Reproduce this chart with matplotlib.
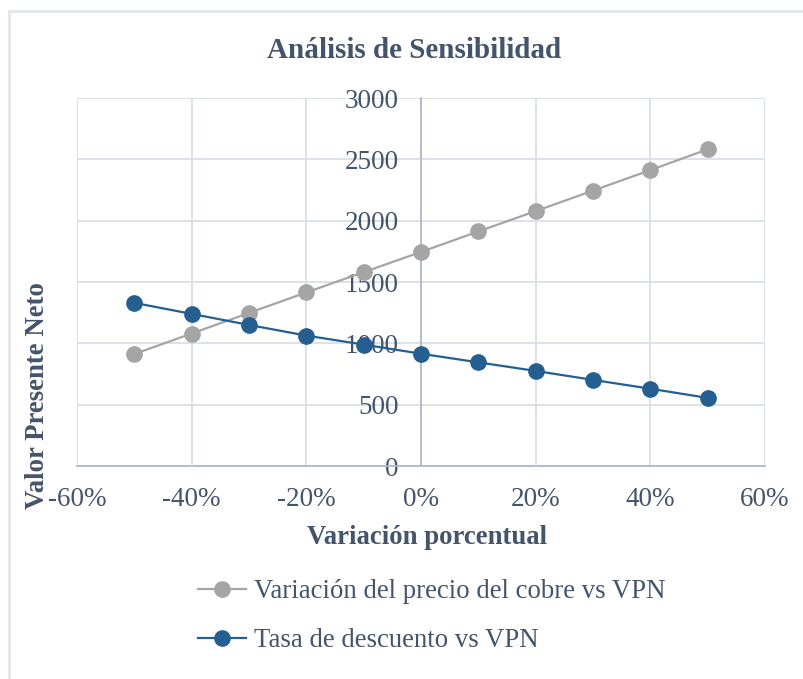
import matplotlib
matplotlib.use("Agg")
import matplotlib.pyplot as plt
from matplotlib.lines import Line2D
from matplotlib.ticker import FuncFormatter

# datos
variacion = [-0.5, -0.4, -0.3, -0.2, -0.1, 0.0, 0.1, 0.2, 0.3, 0.4, 0.5]
vpn_cobre = [913, 1080, 1248, 1415, 1580, 1745, 1912, 2078, 2245, 2412, 2582]
vpn_tasa = [1330, 1240, 1150, 1063, 990, 915, 845, 775, 702, 630, 555]
xticks = [-0.6, -0.4, -0.2, 0.0, 0.2, 0.4, 0.6]
yticks = [0, 500, 1000, 1500, 2000, 2500, 3000]

txt = "#44546A"
gris = "#A5A5A5"
azul = "#255E91"
grid_c = "#D9DEE8"
axis_c = "#ADB9CA"

plt.rcParams['font.family'] = ['Liberation Serif', 'DejaVu Serif']

fig = plt.figure(figsize=(8.04, 6.79), dpi=100)
ax = fig.add_axes([77/804, 1-466/679, (765-77)/804, (466-98)/679])

ax.plot(variacion, vpn_cobre, color=gris, lw=1.6, marker='o', ms=11,
        label="Variación del precio del cobre vs VPN", zorder=3)
ax.plot(variacion, vpn_tasa, color=azul, lw=1.6, marker='o', ms=11,
        label="Tasa de descuento vs VPN", zorder=3)

ax.set_xlim(-0.6, 0.6)
ax.set_ylim(0, 3000)
ax.set_xticks(xticks)
ax.set_yticks(yticks)
ax.xaxis.set_major_formatter(FuncFormatter(lambda v, p: f"{round(v*100):d}%"))

ax.grid(True, color=grid_c, lw=1.3, zorder=0)
ax.set_axisbelow(True)

for s in ['top', 'right']:
    ax.spines[s].set_visible(False)
ax.spines['left'].set_position(('data', 0))
ax.spines['left'].set_color(axis_c)
ax.spines['left'].set_linewidth(1.3)
ax.spines['bottom'].set_color(axis_c)
ax.spines['bottom'].set_linewidth(1.3)

ax.tick_params(axis='both', length=0, labelsize=19.5, colors=txt)
ax.tick_params(axis='x', pad=15)
ax.tick_params(axis='y', pad=16)

fig.text(414/804, 1-51/679, "Análisis de Sensibilidad", ha='center', va='center',
         fontsize=21, fontweight='bold', color=txt)
fig.text(427/804, 1-537/679, "Variación porcentual", ha='center', va='center',
         fontsize=19.3, fontweight='bold', color=txt)
fig.text(38/804, 1-396/679, "Valor Presente Neto", ha='center', va='center',
         rotation=90, fontsize=19.3, fontweight='bold', color=txt)

leg = fig.legend(handles=ax.get_lines(), loc='upper left',
                 bbox_to_anchor=(174/804, 1-555/679), frameon=False,
                 fontsize=19.3, labelcolor=txt, handlelength=1.8,
                 handletextpad=0.3, labelspacing=0.9)

# borde del area del grafico
fig.add_artist(Line2D([9/804, 1], [1-11/679, 1-11/679], color="#E1E5EC", lw=2))
fig.add_artist(Line2D([9/804, 9/804], [0, 1-11/679], color="#E1E5EC", lw=2))

fig.savefig("out.png", dpi=100)
